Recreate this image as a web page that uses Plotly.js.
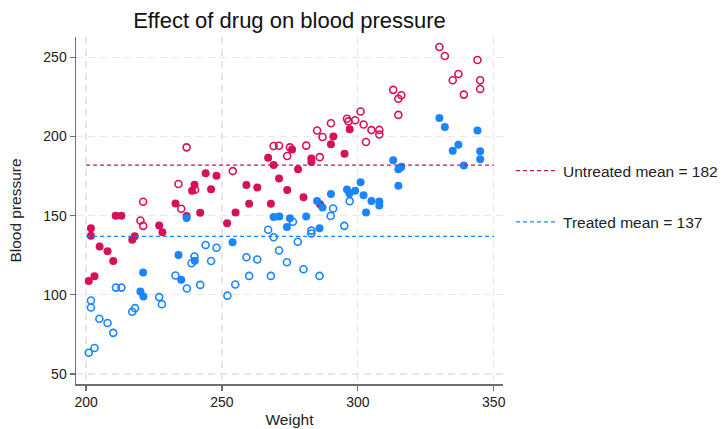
<!DOCTYPE html>
<html>
<head>
<meta charset="utf-8">
<script src="https://cdn.plot.ly/plotly-3.0.1.min.js"></script>
<style>html,body{margin:0;padding:0;background:#fff;}#chart{width:723px;height:429px;}</style>
</head>
<body>
<div id="chart"></div>
<script>
// Untreated (red), filled markers
const untreatedFilledWeight = [201.0,203.1,201.8,201.8,205.0,207.9,210.0,210.9,213.0,217.0,217.9,226.9,228.1,232.9,237.0,242.0,251.9,255.0,260.0,268.0,244.0,248.0,239.9,239.0,246.0,259.0,263.0,267.0,269.0,271.0,274.0,275.8,278.0,282.9,282.9,280.0,286.1,291.0,290.1,295.1,297.0];
const untreatedFilledBP     = [108.8,111.8,142.1,137.4,130.5,127.6,121.4,150.0,150.0,134.8,137.0,143.9,139.6,157.7,149.8,151.8,145.2,152.1,157.5,157.5,176.9,175.2,169.5,165.8,166.8,169.4,167.8,186.6,182.0,173.5,166.2,191.8,179.3,186.1,184.0,161.6,157.2,200.0,195.2,189.1,204.7];
// Untreated (red), hollow markers
const untreatedHollowWeight = [237.0,234.0,240.1,221.0,235.0,220.0,221.0,254.0,269.0,271.0,275.0,274.0,281.0,286.0,285.0,287.0,290.1,296.0,296.5,299.0,301.0,302.1,303.0,305.0,307.9,307.9,313.0,314.9,316.0,314.9,330.0,332.0,337.0,334.9,339.0,344.0,345.0,345.0];
const untreatedHollowBP     = [193.2,170.0,166.4,158.8,154.4,147.0,143.6,178.2,194.0,194.2,193.2,187.7,194.3,187.0,203.8,199.7,208.4,211.3,209.6,210.3,215.8,207.6,196.6,204.1,204.2,201.3,229.5,223.9,226.1,213.7,256.6,250.9,239.5,235.6,226.5,248.4,235.6,230.1];
// Treated (blue), filled markers
const treatedFilledWeight = [237.0,234.0,235.0,221.0,220.0,221.1,240.0,253.9,269.0,271.1,273.9,275.0,281.0,285.9,285.0,287.0,290.1,296.0,296.9,299.0,301.0,302.1,303.0,305.0,307.9,307.9,313.0,314.9,315.6,316.0,314.9,330.0,332.0,344.0,337.0,334.9,345.0,345.0,339.0];
const treatedFilledBP     = [148.5,125.2,109.6,114.1,102.1,98.9,121.6,133.3,149.2,149.5,142.9,148.4,149.5,142.1,159.3,155.2,163.7,166.5,164.1,165.7,171.1,162.9,152.0,159.3,159.0,156.5,185.0,179.3,180.3,180.9,168.9,211.8,206.1,203.8,194.8,191.0,190.8,185.6,181.8];
// Treated (blue), hollow markers
const treatedHollowWeight = [201.0,203.1,201.8,201.8,204.9,207.9,210.0,211.0,213.0,217.0,218.0,226.9,227.9,232.9,237.1,242.0,239.9,238.8,244.0,248.0,246.0,252.0,254.9,259.0,263.0,260.0,268.0,267.0,269.0,271.0,273.9,276.1,277.9,280.0,282.9,282.9,285.9,290.0,290.9,295.0,297.0];
const treatedHollowBP     = [63.4,66.4,96.4,92.0,84.9,82.2,76.0,104.6,104.6,89.3,91.6,98.6,94.1,112.2,104.0,106.3,124.2,120.0,131.5,129.8,121.4,99.5,106.6,123.8,122.3,112.0,112.0,141.1,136.4,128.0,120.6,146.2,133.6,116.2,140.6,138.8,112.0,149.8,154.6,143.6,159.2];

const meanRange = [200, 350];
const untreatedMean = 182;
const treatedMean = 137;

const xTicks = [200, 250, 300, 350];
const yTicks = [50, 100, 150, 200, 250];

const RED = '#d41159';
const BLUE = '#1a85ff';

const traces = [
  {x: untreatedFilledWeight, y: untreatedFilledBP, type: 'scatter', mode: 'markers', showlegend: false,
   marker: {color: RED, size: 8, symbol: 'circle', line: {width: 0}}},
  {x: untreatedHollowWeight, y: untreatedHollowBP, type: 'scatter', mode: 'markers', showlegend: false,
   marker: {color: RED, size: 7, symbol: 'circle-open', line: {width: 1.6, color: RED}}},
  {x: treatedFilledWeight, y: treatedFilledBP, type: 'scatter', mode: 'markers', showlegend: false,
   marker: {color: BLUE, size: 8, symbol: 'circle', line: {width: 0}}},
  {x: treatedHollowWeight, y: treatedHollowBP, type: 'scatter', mode: 'markers', showlegend: false,
   marker: {color: BLUE, size: 7, symbol: 'circle-open', line: {width: 1.6, color: BLUE}}},
  {x: meanRange, y: [untreatedMean, untreatedMean], type: 'scatter', mode: 'lines', legendgroup: 'u',
   name: 'Untreated mean = ' + untreatedMean, line: {color: '#c0185a', width: 1.3, dash: '4px,3px'}},
  {x: meanRange, y: [treatedMean, treatedMean], type: 'scatter', mode: 'lines', legendgroup: 't',
   name: 'Treated mean = ' + treatedMean, line: {color: BLUE, width: 1.3, dash: '4px,3px'}}
];

const axisCommon = {
  showline: true, linecolor: '#6e6e6e', linewidth: 1.5,
  ticks: 'outside', ticklen: 5, tickcolor: '#6e6e6e', tickwidth: 1.2,
  showgrid: true, gridcolor: '#e8e8e8', gridwidth: 1.2, griddash: '7px,5px',
  zeroline: false, mirror: false,
  tickfont: {family: 'Liberation Sans, Arial, sans-serif', size: 14, color: '#222'}
};

const layout = {
  width: 723, height: 429,
  margin: {l: 76, r: 220, t: 37, b: 45, autoexpand: false},
  paper_bgcolor: '#ffffff', plot_bgcolor: '#ffffff',
  font: {family: 'Liberation Sans, Arial, sans-serif', color: '#222'},
  title: {text: 'Effect of drug on blood pressure', font: {size: 22, color: '#111'},
          xref: 'paper', x: 0.5, xanchor: 'center', yref: 'container', y: 0.953, yanchor: 'middle'},
  xaxis: Object.assign({}, axisCommon, {
    range: [196.3, 353.4], tickvals: xTicks, ticktext: xTicks.map(String),
    title: {text: 'Weight', font: {size: 15.5, color: '#222'}, standoff: 5}
  }),
  yaxis: Object.assign({}, axisCommon, {
    range: [43.7, 262.9], tickvals: yTicks, ticktext: yTicks.map(String),
    title: {text: 'Blood pressure', font: {size: 15.5, color: '#222'}, standoff: 18}
  }),
  legend: {xref: 'container', x: 0.7068, xanchor: 'left', y: 0.54, yanchor: 'middle', itemwidth: 42,
           font: {size: 15.5, color: '#222'}, bgcolor: 'rgba(0,0,0,0)', tracegroupgap: 28},
  showlegend: true
};

Plotly.newPlot('chart', traces, layout, {displayModeBar: false, staticPlot: true});
</script>
</body>
</html>
